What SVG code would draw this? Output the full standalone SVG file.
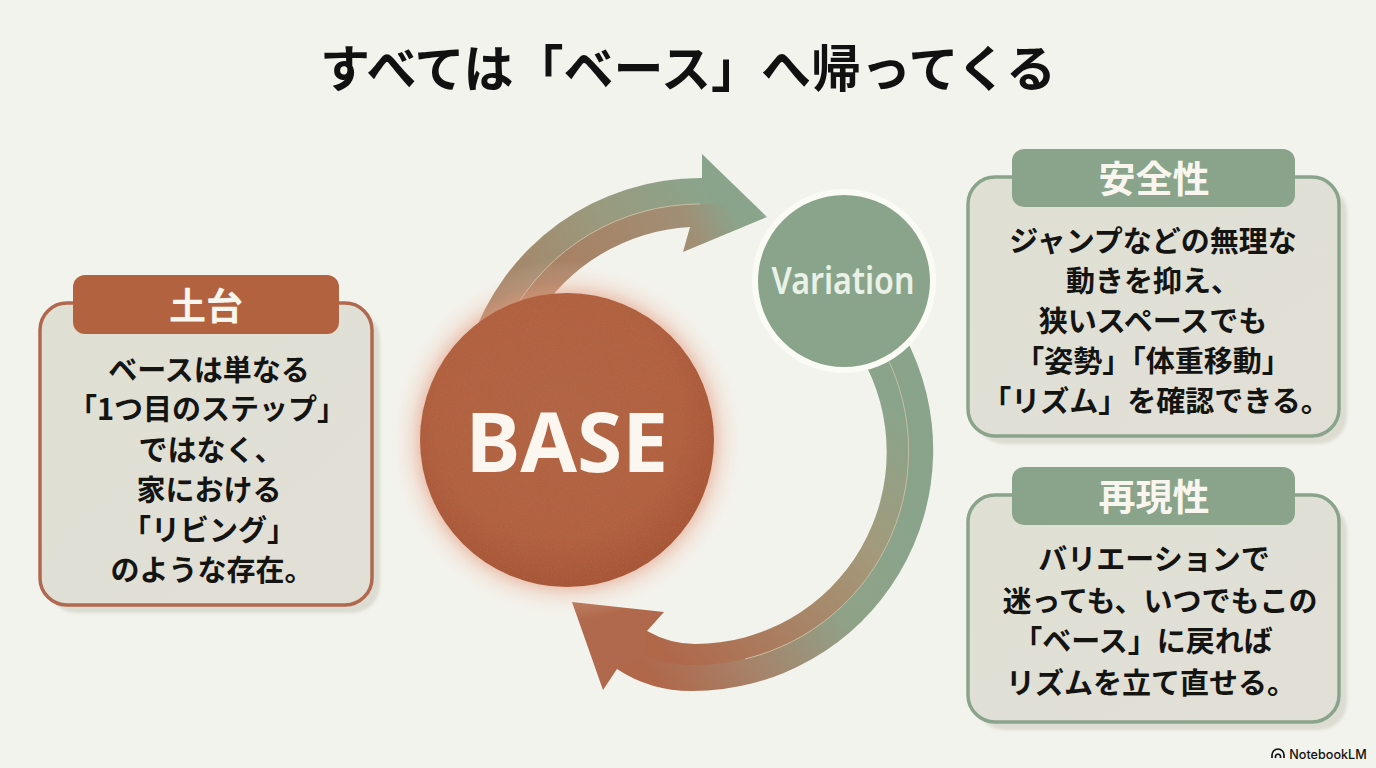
<svg xmlns="http://www.w3.org/2000/svg" width="1376" height="768" viewBox="0 0 1376 768">
<style>
text{font-family:"Noto Sans CJK JP","Noto Sans",sans-serif;text-anchor:middle}
.title{font-size:50px;font-weight:700;fill:#111}
.head{font-size:37px;font-weight:700;fill:#f8f6ee}
.body{font-size:29px;font-weight:700;fill:#141412}
.box{fill:url(#boxFill);stroke-width:3.5}
.shadow{fill:#dcdcd2;filter:url(#soft)}
.seam{fill:none;stroke:#c9bda2;stroke-width:1}
</style>
<defs>
<linearGradient id="boxFill" x1="0" y1="0" x2="1" y2="1"><stop offset="0" stop-color="#dfdfd4"/><stop offset="1" stop-color="#e2e0d6"/></linearGradient>
<linearGradient id="a1o" gradientUnits="userSpaceOnUse" x1="480" y1="320" x2="700" y2="180"><stop offset="0" stop-color="#ab7d60"/><stop offset=".6" stop-color="#9a9a7e"/><stop offset="1" stop-color="#8aa48b"/></linearGradient>
<linearGradient id="a1i" gradientUnits="userSpaceOnUse" x1="520" y1="310" x2="735" y2="215"><stop offset="0" stop-color="#ac7a5c"/><stop offset=".8" stop-color="#a08f75"/><stop offset="1" stop-color="#8aa48b"/></linearGradient>
<linearGradient id="a2o" gradientUnits="userSpaceOnUse" x1="905" y1="520" x2="660" y2="690"><stop offset="0" stop-color="#8aa48b"/><stop offset=".35" stop-color="#8fa288"/><stop offset=".7" stop-color="#a6836a"/><stop offset="1" stop-color="#b0674a"/></linearGradient>
<linearGradient id="a2i" gradientUnits="userSpaceOnUse" x1="885" y1="400" x2="650" y2="640"><stop offset="0" stop-color="#8aa48b"/><stop offset=".35" stop-color="#a39a7b"/><stop offset=".7" stop-color="#a98063"/><stop offset="1" stop-color="#b0674a"/></linearGradient>
<radialGradient id="glow"><stop offset=".8" stop-color="#e39a7c" stop-opacity=".6"/><stop offset=".88" stop-color="#eab39b" stop-opacity=".22"/><stop offset="1" stop-color="#f3f3ec" stop-opacity="0"/></radialGradient>
<radialGradient id="baseFill" cx=".47" cy=".42" r=".6"><stop offset="0" stop-color="#b26343"/><stop offset=".7" stop-color="#b1603f"/><stop offset="1" stop-color="#a55335"/></radialGradient>
<filter id="soft" x="-10%" y="-10%" width="120%" height="120%"><feGaussianBlur stdDeviation="1.5"/></filter>
<filter id="grain" x="0" y="0" width="100%" height="100%"><feTurbulence type="fractalNoise" baseFrequency=".7" numOctaves="2" seed="4"/><feColorMatrix values="0 0 0 0 .45 0 0 0 0 .2 0 0 0 0 .1 0 0 0 1.3 -.45"/><feComposite in2="SourceGraphic" operator="in"/></filter>
</defs>
<rect width="1376" height="768" fill="#f3f3ed"/>
<text class="title" x="688" y="87">すべては「ベース」へ帰ってくる</text>
<g id="connectors">
<g id="arrow-to-variation">
<path fill="url(#a1o)" d="M470 345A242 242 0 0 1 702 178L702 154L767 217L730 206L707 206A216 216 0 0 0 510 319Z"/>
<path fill="url(#a1i)" d="M510 317A216 216 0 0 1 707 204L735 205L767 217L683 252L690 227A193 193 0 0 0 535 320Z"/>
<path class="seam" d="M510 317A216 216 0 0 1 700 204"/>
</g>
<g id="arrow-to-base">
<path fill="url(#a2o)" d="M904 335A241 241 0 0 1 692 691Q650 691 617 669L640 640Q665 660 694 660A214 214 0 0 0 880 344Z"/>
<path fill="url(#a2i)" d="M880 344A214 214 0 0 1 694 665Q660 665 632 650L647 631Q670 644 695 644A192 192 0 0 0 861 356Z"/>
<path fill="#b0694c" d="M572 602L664 612L647 631L645 655L617 669L603 690Z"/>
<path class="seam" d="M880 344A214 214 0 0 1 745 659"/>
</g>
</g>
<g id="node-base">
<circle cx="567" cy="440" r="180" fill="url(#glow)"/>
<circle cx="567" cy="440" r="147" fill="url(#baseFill)"/>
<circle cx="567" cy="440" r="147" fill="#000" filter="url(#grain)" opacity=".4"/>
<text x="567" y="472" font-size="82" font-weight="700" fill="#fbf7f0" style="font-family:'Noto Sans','Open Sans',sans-serif">BASE</text>
</g>
<g id="node-variation">
<circle cx="844" cy="281" r="89" fill="#8aa48b" stroke="#fbfbf6" stroke-width="6"/>
<text x="843" y="294" font-size="37" font-weight="600" fill="#eaf2e8" textLength="143" lengthAdjust="spacingAndGlyphs" style="font-family:'Noto Sans','Open Sans',sans-serif">Variation</text>
</g>
<g id="node-foundation">
<rect class="shadow" x="48" y="311" width="332" height="302" rx="28"/>
<rect class="box" x="40" y="303" width="332" height="302" rx="27" stroke="#b0694e"/>
<rect x="73" y="275" width="266" height="59" rx="12" fill="#b2623f"/>
<text class="head" x="206" y="320">土台</text>
<text class="body" x="209" y="381">ベースは単なる</text>
<text class="body" x="207" y="420">「1つ目のステップ」</text>
<text class="body" x="211" y="461">ではなく、</text>
<text class="body" x="209" y="501">家における</text>
<text class="body" x="209" y="541">「リビング」</text>
<text class="body" x="212" y="581">のような存在。</text>
</g>
<g id="node-safety">
<rect class="shadow" x="976" y="185" width="371" height="259" rx="28"/>
<rect class="box" x="968" y="177" width="371" height="259" rx="27" stroke="#8aa48b"/>
<rect x="1012" y="149" width="283" height="58" rx="12" fill="#8aa48b"/>
<text class="head" x="1154" y="193">安全性</text>
<text class="body" x="1153" y="252">ジャンプなどの無理な</text>
<text class="body" x="1153" y="292">動きを抑え、</text>
<text class="body" x="1153" y="332">狭いスペースでも</text>
<text class="body" x="1153" y="372">「姿勢」「体重移動」</text>
<text class="body" x="1156" y="412">「リズム」を確認できる。</text>
</g>
<g id="node-repro">
<rect class="shadow" x="976" y="503" width="371" height="227" rx="28"/>
<rect class="box" x="968" y="495" width="371" height="227" rx="27" stroke="#8aa48b"/>
<rect x="1012" y="467" width="283" height="58" rx="12" fill="#8aa48b"/>
<text class="head" x="1154" y="511">再現性</text>
<text class="body" x="1154" y="570">バリエーションで</text>
<text class="body" x="1160" y="612">迷っても、いつでもこの</text>
<text class="body" x="1143" y="652">「ベース」に戻れば</text>
<text class="body" x="1151" y="694">リズムを立て直せる。</text>
</g>
<g id="credit">
<path fill="none" stroke="#111" stroke-width="1.7" d="M1272 758V755A6 6 0 0 1 1284 755V758M1275.5 758V756A2.6 2.6 0 0 1 1280.5 756V758"/>
<text x="1328" y="759" font-size="12.6" font-weight="500" fill="#111" style="font-family:Inter,'Noto Sans',sans-serif">NotebookLM</text>
</g>
</svg>
